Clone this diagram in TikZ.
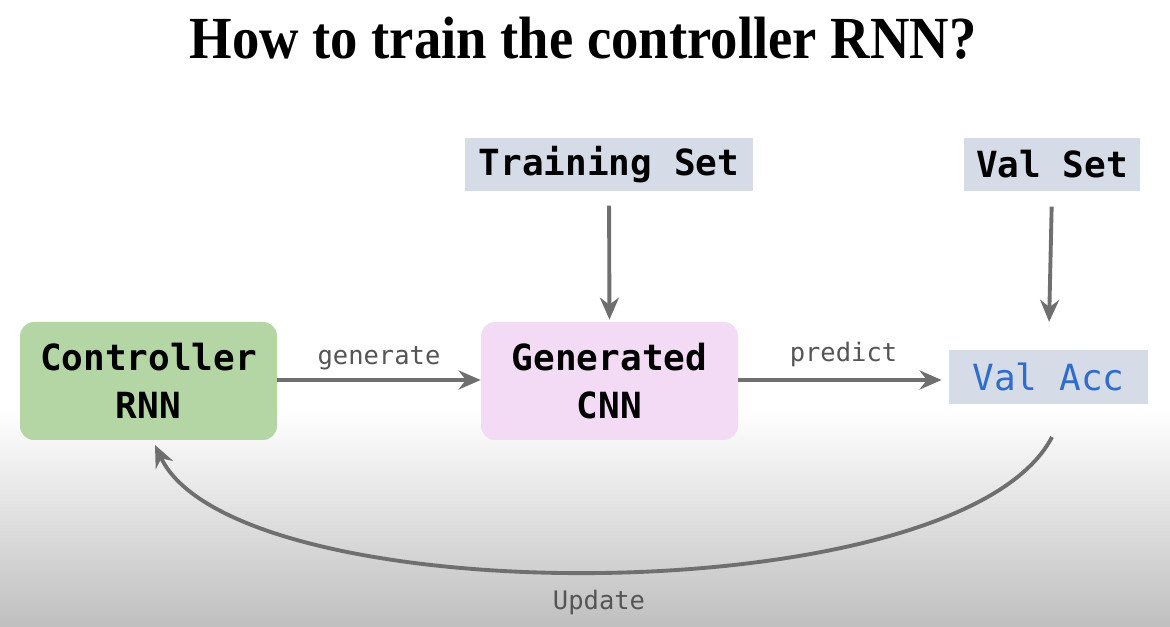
\documentclass[tikz,border=0pt]{standalone}
\usepackage{fontspec}
\usetikzlibrary{arrows.meta,positioning}
\setmainfont{Liberation Serif}
\newfontfamily\codefont{DejaVu Sans Mono}
\definecolor{leaf}{HTML}{B4D6A5}
\definecolor{blush}{HTML}{F3DBF5}
\definecolor{slate}{HTML}{D6DBE8}
\definecolor{wire}{HTML}{6F6F6F}
\definecolor{note}{HTML}{555555}
\definecolor{accent}{HTML}{2F6CCB}

\begin{document}
\begin{tikzpicture}[x=1cm,y=1cm,>={Stealth[length=0.44cm,width=0.38cm]},
      model/.style={rounded corners=8pt,minimum width=5.14cm,minimum height=2.36cm,
                    align=center,inner sep=0pt,font=\codefont\bfseries\fontsize{20.5}{27}\selectfont},
      data/.style={fill=slate,minimum height=1.07cm,inner sep=0pt,
                   font=\codefont\bfseries\fontsize{20.5}{24}\selectfont},
      flow/.style={->,line width=2.2pt,draw=wire},
      tag/.style={font=\codefont\fontsize{14.5}{17}\selectfont,text=note}]
    \useasboundingbox (0,0) rectangle (23.4,-12.54);
    \shade[top color=white,bottom color=black!25] (0,-8.2) rectangle (23.4,-12.54);
    \node[font=\bfseries\fontsize{34}{40}\selectfont,xscale=0.915] (title) at (11.66,-0.76) {How to train the controller RNN?};
    \node[model,fill=leaf] (ctrl) at (2.97,-7.62) {Controller\\RNN};
    \node[model,fill=blush] (cnn) at (12.19,-7.62) {Generated\\CNN};
    \node[data,minimum width=5.76cm] (train) at (12.18,-3.29) {Training Set};
    \node[data,minimum width=3.52cm] (valset) at (21.04,-3.29) {Val Set};
    \node[data,minimum width=3.98cm,text=accent,font=\codefont\fontsize{20.5}{24}\selectfont] (valacc) at (20.97,-7.54) {Val Acc};
    \draw[flow] (ctrl.east |- 0,-7.6) -- node[tag,above=1pt] {generate} (cnn.west |- 0,-7.6);
    \draw[flow,shorten >=0.14cm] (cnn.east |- 0,-7.6) -- node[tag,above=3pt] {predict} (valacc.west |- 0,-7.6);
    \draw[flow,shorten <=0.28cm,shorten >=0.04cm] (train.south) -- (cnn.north);
    \draw[flow,shorten <=0.3cm,shorten >=0.56cm] (valset.south) -- (valacc.south |- valacc.north);
    \coordinate (from) at (21.04,-8.74);
    \coordinate (to) at (3.1,-8.9);
    \draw[flow] (from) .. controls (19.2,-12.3) and (4.7,-12.3) .. node[tag,below=0.22cm] {Update} (to);
\end{tikzpicture}
\end{document}
